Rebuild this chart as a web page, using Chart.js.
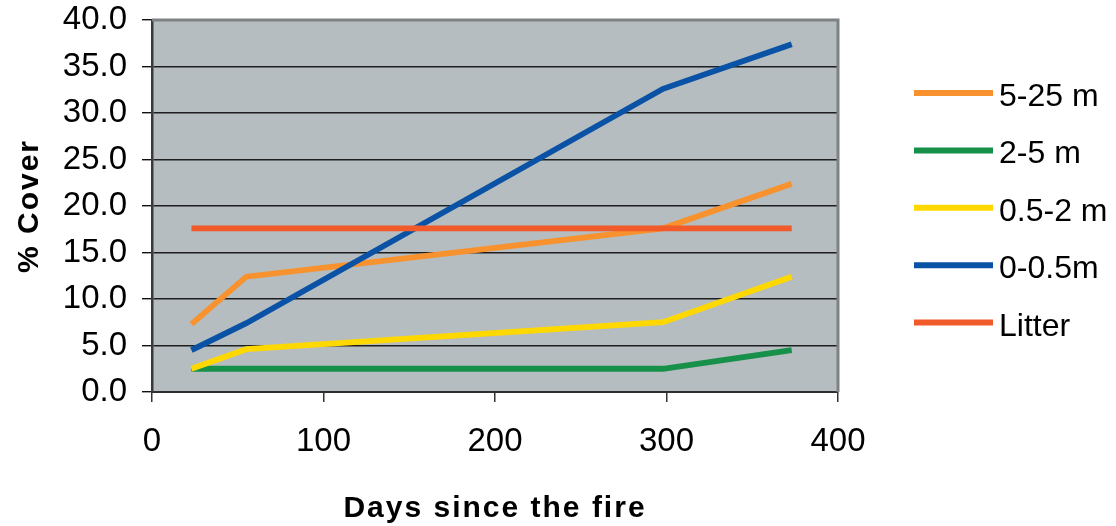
<!DOCTYPE html>
<html>
<head>
<meta charset="utf-8">
<title>% Cover</title>
<script src="https://cdn.jsdelivr.net/npm/chart.js@4.4.0/dist/chart.umd.min.js"></script>
<style>
    html, body { margin: 0; padding: 0; background: #ffffff; }
    #box { width: 1116px; height: 526px; }
</style>
</head>
<body>
<div id="box"><canvas id="myChart"></canvas></div>
<script>
// days after the fire at each survey
var dias = [23, 55, 298, 373];

var nomesSeries = ['5-25 m', '2-5 m', '0.5-2 m', '0-0.5m', 'Litter'];
var cores = ['#F7922E', '#17904A', '#FFD800', '#0A52A5', '#F15A29'];

var cobertura525 = [7.3, 12.4, 17.6, 22.4];
var cobertura25 = [2.5, 2.5, 2.5, 4.5];
var cobertura052 = [2.5, 4.6, 7.5, 12.4];
var cobertura005 = [4.5, 7.4, 32.6, 37.4];
var coberturaLitter = [17.6, 17.6, 17.6, 17.6];

var ticksY = [0, 5, 10, 15, 20, 25, 30, 35, 40];
var ticksX = [0, 100, 200, 300, 400];

var tituloX = 'Days since the fire';
var tituloY = '% Cover';

var fonte = '"Liberation Sans", Arial, sans-serif';

function montarSerie(indice, valores) 
{
    return {
        label: nomesSeries[indice],
        data: dias.map(function (d, i) { return { x: d, y: valores[i] }; }),
        borderColor: cores[indice],
        backgroundColor: cores[indice],
        borderWidth: 5.8,
        pointRadius: 0,
        tension: 0,
        // later series go on top, like the legend order
        order: nomesSeries.length - indice
    };
}

// grey plot area plus the light frame on top and right
var fundoPlot = 
{
    id: 'fundoPlot',
    beforeDraw: function (chart) 
    {
        var a = chart.chartArea, ctx = chart.ctx;
        ctx.save();
        ctx.fillStyle = '#B6BDC0';
        ctx.fillRect(a.left, a.top, a.right - a.left, a.bottom - a.top);
        ctx.restore();
    },
    afterDraw: function (chart) 
    {
        var a = chart.chartArea, ctx = chart.ctx;
        ctx.save();
        ctx.strokeStyle = '#7F8283';
        ctx.lineWidth = 3;
        ctx.beginPath();
        ctx.moveTo(a.left, a.top);
        ctx.lineTo(a.right, a.top);
        ctx.lineTo(a.right, a.bottom);
        ctx.stroke();
        ctx.restore();
    }
};

// axis titles are spaced out a bit, so they are drawn here
var titulosEixos = 
{
    id: 'titulosEixos',
    afterDraw: function (chart) 
    {
        var a = chart.chartArea, ctx = chart.ctx;
        ctx.save();
        ctx.fillStyle = '#000000';
        ctx.font = 'bold 30px ' + fonte;
        ctx.letterSpacing = '2px';
        ctx.textAlign = 'center';
        ctx.textBaseline = 'alphabetic';
        ctx.fillText(tituloX, (a.left + a.right) / 2, a.bottom + 125);

        ctx.translate(38, (a.top + a.bottom) / 2);
        ctx.rotate(-Math.PI / 2);
        ctx.fillText(tituloY, 0, 0);
        ctx.restore();
    }
};

// legend on the right, drawn from the datasets
var legendaLateral = 
{
    id: 'legendaLateral',
    afterDraw: function (chart) 
    {
        var a = chart.chartArea, ctx = chart.ctx;
        var x0 = a.right + 76, y0 = a.top + 73, passo = 57.4;
        ctx.save();
        ctx.font = '32px ' + fonte;
        ctx.textAlign = 'left';
        ctx.textBaseline = 'alphabetic';
        chart.data.datasets.forEach(function (ds, i) 
        {
            var y = y0 + i * passo;
            ctx.strokeStyle = ds.borderColor;
            ctx.lineWidth = 6;
            ctx.beginPath();
            ctx.moveTo(x0, y);
            ctx.lineTo(x0 + 79, y);
            ctx.stroke();
            ctx.fillStyle = '#000000';
            ctx.fillText(ds.label, x0 + 85, y + 13);
        });
        ctx.restore();
    }
};

var chartData = 
{
    datasets: [
        montarSerie(0, cobertura525),
        montarSerie(1, cobertura25),
        montarSerie(2, cobertura052),
        montarSerie(3, cobertura005),
        montarSerie(4, coberturaLitter)
    ]
};

var chartOptions = 
{
    responsive: true,
    maintainAspectRatio: false,
    animation: false,
    layout: {
        padding: { top: 20, right: 278, left: 0, bottom: 0 }
    },
    plugins: {
        legend: { display: false },
        tooltip: { enabled: false }
    },
    scales: {
        x: {
            type: 'linear',
            min: 0,
            max: 400,
            afterBuildTicks: function (scale) 
            {
                scale.ticks = ticksX.map(function (v) { return { value: v }; });
            },
            afterFit: function (scale) { scale.height = 134; },
            grid: {
                drawOnChartArea: false,
                drawTicks: true,
                tickLength: 10,
                tickColor: '#333333',
                lineWidth: 1.5
            },
            border: { color: '#2E2E2E', width: 2 },
            ticks: {
                color: '#000000',
                padding: 20,
                maxRotation: 0,
                font: { family: fonte, size: 33 }
            }
        },
        y: {
            min: 0,
            max: 40,
            afterBuildTicks: function (scale) 
            {
                scale.ticks = ticksY.map(function (v) { return { value: v }; });
            },
            afterFit: function (scale) 
            {
                scale.width = 152;
                // labels may hang over the top, the layout padding covers it
                scale.paddingTop = 0;
                scale.paddingBottom = 0;
            },
            grid: {
                color: '#1E1E1E',
                lineWidth: 1.4,
                tickLength: 10,
                tickColor: '#111111'
            },
            border: { color: '#3A3A3A', width: 2.5 },
            ticks: {
                color: '#000000',
                padding: 15,
                callback: function (v) { return v.toFixed(1); },
                font: { family: fonte, size: 33 }
            }
        }
    }
};

var chart = new Chart(document.getElementById('myChart').getContext('2d'), 
{
    type: 'line',
    data: chartData,
    options: chartOptions,
    plugins: [fundoPlot, titulosEixos, legendaLateral]
});
</script>
</body>
</html>
